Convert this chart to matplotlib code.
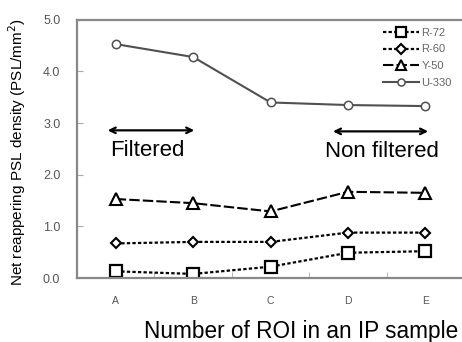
import matplotlib
matplotlib.use("Agg")
import matplotlib.pyplot as plt

# ROI samples and series values
samples = ["A", "B", "C", "D", "E"]
r72 = [0.13, 0.08, 0.22, 0.49, 0.52]
r60 = [0.67, 0.70, 0.70, 0.88, 0.88]
y50 = [1.53, 1.45, 1.29, 1.67, 1.65]
u330 = [4.53, 4.28, 3.40, 3.35, 3.33]
y_ticks = [0.0, 1.0, 2.0, 3.0, 4.0, 5.0]

plt.rcParams["font.family"] = ["Liberation Sans", "DejaVu Sans"]

fig = plt.figure(figsize=(4.62, 3.42), dpi=100)
ax = fig.add_axes([0.1667, 0.187, 0.838, 0.755])

x = list(range(len(samples)))
ax.plot(x, r72, color="black", lw=1.6, ls=(0, (1.5, 1)), marker="s", ms=8,
        mfc="white", mec="black", mew=1.6, label="R-72")
ax.plot(x, r60, color="black", lw=1.6, ls=(0, (1.5, 1)), marker="D", ms=5.5,
        mfc="white", mec="black", mew=1.5, label="R-60")
ax.plot(x, y50, color="black", lw=1.5, ls=(0, (5, 1.5)), marker="^", ms=8,
        mfc="white", mec="black", mew=1.5, label="Y-50")
ax.plot(x, u330, color="#505050", lw=1.5, ls="-", marker="o", ms=6,
        mfc="white", mec="#505050", mew=1.1, label="U-330")

ax.set_xlim(-0.5, 4.5)
ax.set_ylim(0, 5.0)
ax.set_yticks(y_ticks)
ax.set_yticklabels([f"{v:.1f}" for v in y_ticks])
ax.set_xticks(x)
ax.set_xticklabels(samples)
ax.set_xticks([0.5, 1.5, 2.5, 3.5], minor=True)
ax.tick_params(axis="x", which="major", length=0, pad=13, labelsize=7.5,
               labelcolor="#555555")
ax.tick_params(axis="x", which="minor", direction="in", length=4,
               color="#aaaaaa")
ax.tick_params(axis="y", direction="in", length=4, color="#aaaaaa",
               pad=12, labelsize=9, labelcolor="#555555")

for side in ["left", "top", "bottom"]:
    ax.spines[side].set_color("#888888")
    ax.spines[side].set_linewidth(1.6)
ax.spines["right"].set_visible(False)

# Filtered / Non filtered annotations
ax.annotate("", xy=(-0.14, 2.86), xytext=(1.05, 2.86),
            arrowprops=dict(arrowstyle="<->", color="black", lw=1.6))
ax.annotate("", xy=(2.77, 2.84), xytext=(4.07, 2.84),
            arrowprops=dict(arrowstyle="<->", color="black", lw=1.6))
ax.text(-0.07, 2.47, "Filtered", fontsize=16, va="center", ha="left")
ax.text(2.70, 2.45, "Non filtered", fontsize=16, va="center", ha="left")

leg = ax.legend(loc="upper right", bbox_to_anchor=(0.985, 0.995), frameon=False,
                fontsize=8, handlelength=3.2, handletextpad=0.25,
                labelspacing=0.6, borderaxespad=0.2, markerscale=0.85)
for t in leg.get_texts():
    t.set_color("#666666")

fig.text(0.038, 0.556, "Net reappering PSL density (PSL/mm$^2$)",
         rotation=90, fontsize=11, va="center", ha="center")
fig.text(0.6526, 0.03, "Number of ROI in an IP sample", fontsize=16.3,
         va="center", ha="center")

fig.savefig("out.png", dpi=100)
